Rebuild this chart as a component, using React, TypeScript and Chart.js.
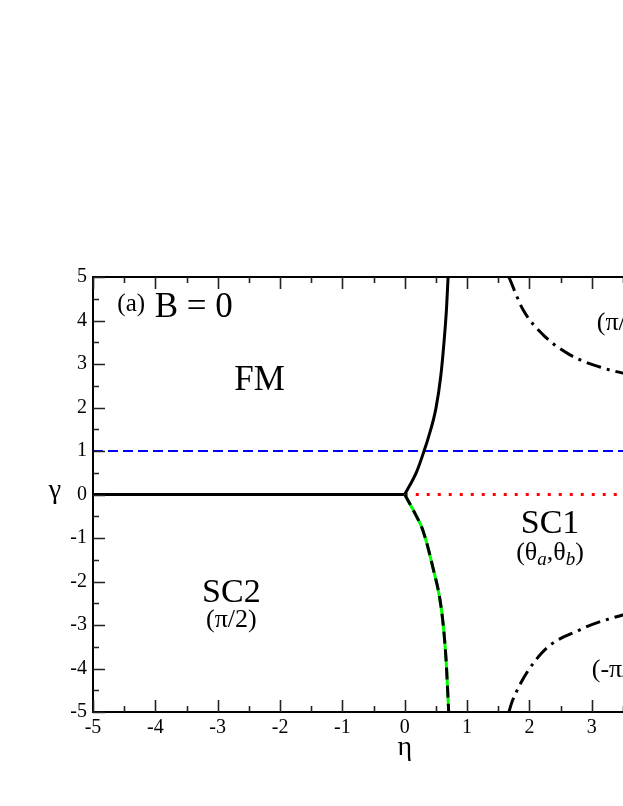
import React, { useEffect, useRef } from "react";
import { Chart, registerables } from "chart.js";

Chart.register(...registerables);

// ---- data ----
const etaRange = [-5, 5];
const gammaRange = [-5, 5];

const fmBoundaryEta = [0, 0.19, 0.31, 0.375, 0.5, 0.58, 0.63, 0.67, 0.695];
const fmBoundaryGamma = [0, 0.52, 1.0, 1.29, 1.98, 2.75, 3.51, 4.28, 5.0];

const sc2BoundaryEta = [0, 0.17, 0.29, 0.45, 0.59, 0.66, 0.705];
const sc2BoundaryGamma = [0, -0.45, -0.82, -1.67, -2.66, -3.74, -5.0];

const zeroLineEta = [-5, 0];
const zeroLineGamma = [0, 0];

const blueLineEta = [-5, 5];
const blueLineGamma = [1, 1];

const redLineEta = [0, 5];
const redLineGamma = [0, 0];

const upperDashDotEta = [1.67, 1.9, 2.22, 2.65, 3.13, 3.5, 4.0, 5.0];
const upperDashDotGamma = [5.0, 4.24, 3.67, 3.21, 2.93, 2.79, 2.66, 2.5];

const lowerDashDotEta = [1.67, 1.73, 2.2, 2.81, 3.5, 4.0, 5.0];
const lowerDashDotGamma = [-5.0, -4.73, -3.64, -3.11, -2.77, -2.64, -2.5];

const toPts = (xs: number[], ys: number[]) => xs.map((v, i) => ({ x: v, y: ys[i] }));

const SERIF = "'Liberation Serif', 'Times New Roman', serif";

const decorPlugin = {
  id: "decor",
  afterDraw(chart: any) {
    const { ctx, chartArea, scales } = chart;
    const { left, right, top, bottom } = chartArea;
    const xs = scales.x;
    const ys = scales.y;
    ctx.save();
    // frame
    ctx.strokeStyle = "#000";
    ctx.lineWidth = 2;
    ctx.strokeRect(left, top, right - left, bottom - top);
    // ticks (inward)
    ctx.lineWidth = 1.6;
    ctx.strokeStyle = "#222";
    ctx.beginPath();
    for (let k = 0; k <= 20; k++) {
      const v = -5 + k * 0.5;
      const len = k % 2 === 0 ? 12 : 6;
      const px = Math.round(xs.getPixelForValue(v)) + 0.5;
      ctx.moveTo(px, bottom);
      ctx.lineTo(px, bottom - len);
      ctx.moveTo(px, top);
      ctx.lineTo(px, top + len);
      const py = Math.round(ys.getPixelForValue(v)) + 0.5;
      ctx.moveTo(left, py);
      ctx.lineTo(left + len, py);
      ctx.moveTo(right, py);
      ctx.lineTo(right - len, py);
    }
    ctx.stroke();

    ctx.fillStyle = "#000";
    ctx.textBaseline = "middle";
    const text = (s: string, ex: number, gy: number, size: number, align: CanvasTextAlign = "center") => {
      ctx.font = `${size}px ${SERIF}`;
      ctx.textAlign = align;
      ctx.fillText(s, xs.getPixelForValue(ex), ys.getPixelForValue(gy));
    };

    // axis titles
    ctx.font = `28px ${SERIF}`;
    ctx.textAlign = "center";
    ctx.fillText("η", xs.getPixelForValue(0), 748);
    ctx.fillText("γ", 55, ys.getPixelForValue(0) - 4);

    // annotations
    text("(a)", -4.61, 4.36, 25, "left");
    text("B = 0", -4.01, 4.29, 35, "left");
    text("FM", -2.33, 2.61, 35);
    text("SC1", 2.33, -0.68, 34);
    text("SC2", -2.78, -2.26, 34);
    text("(π/2)", -2.78, -2.9, 26);
    text("(π/2)", 3.08, 3.94, 26, "left");
    text("(-π/2)", 3.0, -4.03, 26, "left");

    // (θa,θb) with italic subscripts
    {
      const cx = xs.getPixelForValue(2.33);
      const cy = ys.getPixelForValue(-1.35);
      const parts: [string, boolean][] = [
        ["(θ", false],
        ["a", true],
        [",θ", false],
        ["b", true],
        [")", false],
      ];
      const fMain = `26px ${SERIF}`;
      const fSub = `italic 19px ${SERIF}`;
      let total = 0;
      for (const [s, sub] of parts) {
        ctx.font = sub ? fSub : fMain;
        total += ctx.measureText(s).width;
      }
      let px = cx - total / 2;
      ctx.textAlign = "left";
      for (const [s, sub] of parts) {
        ctx.font = sub ? fSub : fMain;
        ctx.fillText(s, px, sub ? cy + 7 : cy);
        px += ctx.measureText(s).width;
      }
    }
    ctx.restore();
  },
};

export default function App() {
  const ref = useRef<HTMLCanvasElement | null>(null);

  useEffect(() => {
    if (!ref.current) return;
    const base = {
      showLine: true,
      pointRadius: 0,
      pointHoverRadius: 0,
      fill: false,
      borderCapStyle: "butt" as const,
    };
    const chart = new Chart(ref.current, {
      type: "scatter",
      data: {
        datasets: [
          {
            ...base,
            label: "SC1/SC2 boundary (dashed)",
            data: toPts(sc2BoundaryEta, sc2BoundaryGamma),
            borderColor: "#000000",
            borderWidth: 3,
            borderDash: [12, 6],
            tension: 0.4,
            cubicInterpolationMode: "monotone",
            order: 1,
          },
          {
            ...base,
            label: "SC1/SC2 boundary (green)",
            data: toPts(sc2BoundaryEta, sc2BoundaryGamma),
            borderColor: "#00ff00",
            borderWidth: 3,
            tension: 0.4,
            cubicInterpolationMode: "monotone",
            order: 2,
          },
          {
            ...base,
            label: "FM boundary",
            data: toPts(fmBoundaryEta, fmBoundaryGamma),
            borderColor: "#000000",
            borderWidth: 3,
            tension: 0.4,
            cubicInterpolationMode: "monotone",
            order: 3,
          },
          {
            ...base,
            label: "FM/SC2",
            data: toPts(zeroLineEta, zeroLineGamma),
            borderColor: "#000000",
            borderWidth: 3,
            order: 4,
          },
          {
            ...base,
            label: "gamma = 1",
            data: toPts(blueLineEta, blueLineGamma),
            borderColor: "#0000ff",
            borderWidth: 2,
            borderDash: [10, 5],
            order: 5,
          },
          {
            ...base,
            label: "gamma = 0, eta > 0",
            data: toPts(redLineEta, redLineGamma),
            borderColor: "#ff0000",
            borderWidth: 3,
            borderDash: [3, 8],
            order: 6,
          },
          {
            ...base,
            label: "upper dash-dot",
            data: toPts(upperDashDotEta, upperDashDotGamma),
            borderColor: "#000000",
            borderWidth: 3,
            borderDash: [15, 6, 3, 6],
            tension: 0.4,
            cubicInterpolationMode: "monotone",
            order: 7,
          },
          {
            ...base,
            label: "lower dash-dot",
            data: toPts(lowerDashDotEta, lowerDashDotGamma),
            borderColor: "#000000",
            borderWidth: 3,
            borderDash: [15, 6, 3, 6],
            tension: 0.4,
            cubicInterpolationMode: "monotone",
            order: 8,
          },
        ],
      },
      options: {
        responsive: false,
        animation: false,
        events: [],
        layout: { padding: { top: 277, right: 43.5, left: 0, bottom: 0 } },
        plugins: {
          legend: { display: false },
          tooltip: { enabled: false },
          title: { display: false },
        },
        scales: {
          x: {
            type: "linear",
            min: etaRange[0],
            max: etaRange[1],
            grid: { display: false, drawTicks: false },
            border: { display: false },
            afterFit: (s: any) => {
              s.height = 94;
            },
            ticks: {
              stepSize: 1,
              padding: 4,
              color: "#000",
              font: { family: SERIF, size: 20 },
              callback: (v: any) => String(v),
            },
          },
          y: {
            type: "linear",
            min: gammaRange[0],
            max: gammaRange[1],
            grid: { display: false, drawTicks: false },
            border: { display: false },
            afterFit: (s: any) => {
              s.width = 93;
            },
            ticks: {
              stepSize: 1,
              padding: 6,
              color: "#000",
              font: { family: SERIF, size: 20 },
              callback: (v: any) => String(v),
            },
          },
        },
      },
      plugins: [decorPlugin],
    } as any);
    return () => chart.destroy();
  }, []);

  return (
    <div
      style={{
        position: "fixed",
        left: 0,
        top: 0,
        width: 623,
        height: 806,
        overflow: "hidden",
        background: "#fff",
      }}
    >
      <canvas ref={ref} width={760} height={806} style={{ width: 760, height: 806, display: "block" }} />
    </div>
  );
}
